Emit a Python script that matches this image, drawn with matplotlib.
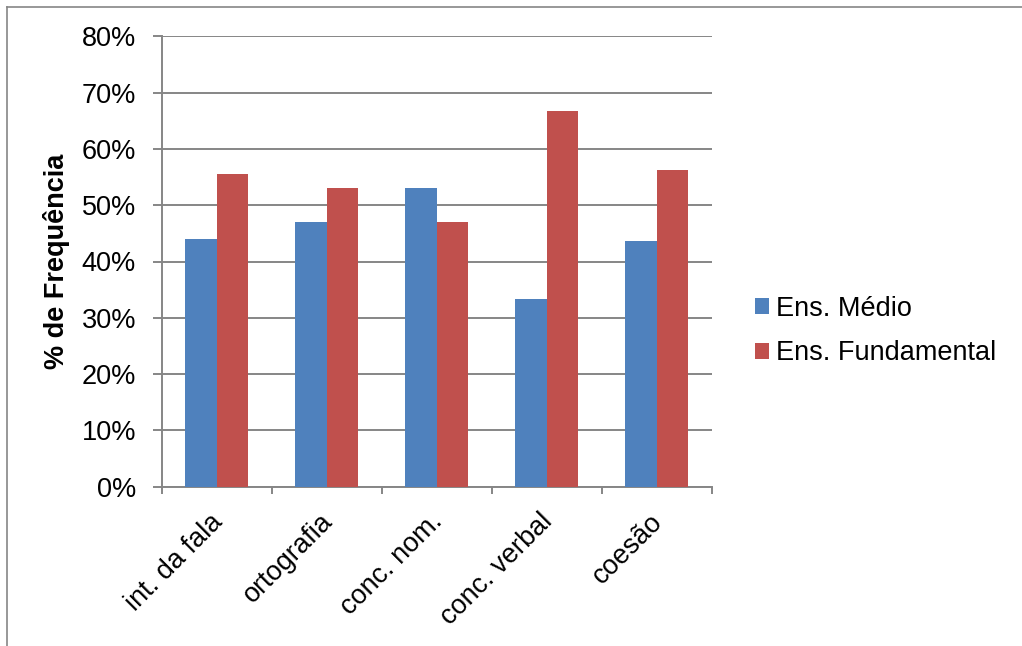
import matplotlib
matplotlib.use("Agg")
import matplotlib.pyplot as plt
import numpy as np
from matplotlib.lines import Line2D
from matplotlib.transforms import ScaledTranslation

categories = ["int. da fala", "ortografia", "conc. nom.", "conc. verbal", "coesão"]
medio = [44.0, 47.0, 53.0, 33.3, 43.7]
fundamental = [55.5, 53.0, 47.0, 66.7, 56.2]
series_names = ["Ens. Médio", "Ens. Fundamental"]
yticks = [0, 10, 20, 30, 40, 50, 60, 70, 80]

plt.rcParams['font.family'] = ['Liberation Sans', 'DejaVu Sans']

FS = 19.5
W, H = 1022, 646
fig = plt.figure(figsize=(W/100, H/100), dpi=100)
L, R, T, B = 161.5, 711.5, 36.3, 486.7
ax = fig.add_axes([L/W, 1-B/H, (R-L)/W, (B-T)/H])

x = np.arange(len(categories))
w = 1/3.5
blue = "#4F81BD"
red = "#C0504D"
ax.bar(x - w/2, medio, width=w, color=blue, zorder=3, label=series_names[0])
ax.bar(x + w/2, fundamental, width=w, color=red, zorder=3, label=series_names[1])

ax.set_xlim(-0.5, len(categories) - 0.5)
ax.set_ylim(0, 80)
ax.set_yticks(yticks)
ax.set_yticklabels([f"{t}%" for t in yticks], fontsize=FS)
grid_c = "#868686"
ax.yaxis.grid(True, color=grid_c, linewidth=1.4, zorder=0)
ax.set_axisbelow(True)
for s in ["top", "right"]:
    ax.spines[s].set_visible(False)
for s in ["left", "bottom"]:
    ax.spines[s].set_color(grid_c)
    ax.spines[s].set_linewidth(1.4)
ax.tick_params(axis='y', length=6.3, width=1.4, color=grid_c, pad=12, labelcolor="black")

# category boundary ticks on x
ax.set_xticks(np.arange(-0.5, len(categories)))
ax.set_xticklabels([])
ax.tick_params(axis='x', length=5.3, width=1.4, color=grid_c, direction='out')

# rotated category labels
off = ScaledTranslation(-7/100, -22/100, fig.dpi_scale_trans)
for xi, cat in zip(x, categories):
    ax.text(xi, 0, cat, transform=ax.get_xaxis_transform() + off,
            rotation=45, ha='right', va='top', rotation_mode='anchor', fontsize=FS)

ax.set_ylabel("% de Frequência", fontsize=FS, fontweight='bold', labelpad=8)

ax.legend(loc='center left', bbox_to_anchor=(755/W, 1-331/H), frameon=False,
          fontsize=FS, handlelength=0.5, handleheight=0.5, handletextpad=0.27,
          labelspacing=0.7, borderpad=0, borderaxespad=0,
          bbox_transform=fig.transFigure)

# outer border (left and top)
fig.add_artist(Line2D([7/W, 7/W], [0, 1-7/H], color="#868686", linewidth=1.2, transform=fig.transFigure))
fig.add_artist(Line2D([7/W, 1], [1-7/H, 1-7/H], color="#868686", linewidth=1.2, transform=fig.transFigure))

fig.savefig("out.png", dpi=100)
